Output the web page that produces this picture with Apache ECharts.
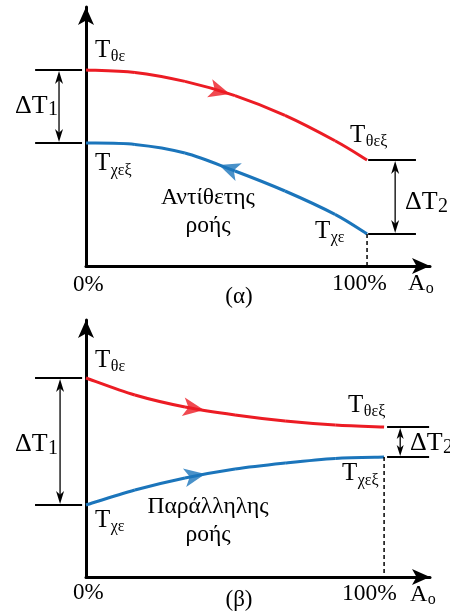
<!DOCTYPE html>
<html><head><meta charset="utf-8">
<script src="https://cdn.jsdelivr.net/npm/echarts@6/dist/echarts.min.js"></script>
<style>html,body{margin:0;padding:0;background:#fff}#c{width:450px;height:612px}</style>
</head><body><div id="c"></div>
<script>
// ---------- DATA ----------
// Panel (α): counter-flow. x = % of area A_o, T = temperature (arbitrary units)
const aHotX  = [0, 17.4, 35.2, 53, 70.8, 88.6, 100];
const aHotT  = [98, 96.8, 92.3, 85.2, 75.3, 62.6, 53];
const aColdX = [0, 17.4, 35.2, 53, 70.8, 88.6, 100];
const aColdT = [61.5, 60.8, 56.5, 47.5, 37.5, 25.8, 16];
// Panel (β): parallel flow
const bHotX  = [0, 16.4, 33.2, 50, 66.8, 83.6, 100];
const bHotT  = [99.5, 91, 85, 81, 78, 76, 75];
const bColdX = [0, 16.4, 33.2, 50, 66.8, 83.6, 100];
const bColdT = [36, 43.5, 49.5, 54, 57, 59.3, 60];
// flow direction arrows [x, T]
const aHotArrow  = [51.2, 86];
const aColdArrow = [47.3, 50.5];
const bHotArrow  = [39.6, 83.5];
const bColdArrow = [40, 51.5];
// annotation bracket x positions (in % units of each panel): from, to, arrow x
const aLeftBracket  = [-18.1, -1.4, -9.6];
const aRightBracket = [100.4, 117.4, 110];
const bLeftBracket  = [-17.1, -1.3, -8.7];
const bRightBracket = [101, 115.1, 105.4];
const xTickLabels = ['0%', '100%'];
const axisName = ['Α', 'ο'];

const RED = '#ec1c24', BLUE = '#1b75bb';
const FAMILY = "Liberation Serif";

const chart = echarts.init(document.getElementById('c'), null, {renderer: 'canvas'});
const zip = (xs, ys) => xs.map((x, i) => [x, ys[i]]);
const last = a => a[a.length - 1];

function axes(gi, xmax, ymax) {
  const line = {show: true, lineStyle: {color: '#000', width: 3}, symbol: ['none', 'arrow'], symbolSize: [12, 18]};
  return {
    x: {gridIndex: gi, type: 'value', min: 0, max: xmax, axisLine: line, axisTick: {show: false}, axisLabel: {show: false}, splitLine: {show: false}},
    y: {gridIndex: gi, type: 'value', min: 0, max: ymax, axisLine: line, axisTick: {show: false}, axisLabel: {show: false}, splitLine: {show: false}}
  };
}
const A = axes(0, 122.4, 129.5), B = axes(1, 115.4, 128.5);

// smooth curve (Catmull-Rom through the data points, positioned by the axes)
function curve(gi, xs, ys, color) {
  return {
    type: 'custom', xAxisIndex: gi, yAxisIndex: gi, data: zip(xs, ys), silent: true, clip: false,
    renderItem: function (params, api) {
      if (params.dataIndex !== 0) return null;
      const P = xs.map((x, i) => api.coord([x, ys[i]]));
      const n = P.length, kids = [];
      for (let i = 0; i < n - 1; i++) {
        const p0 = P[Math.max(i - 1, 0)], p1 = P[i], p2 = P[i + 1], p3 = P[Math.min(i + 2, n - 1)];
        kids.push({type: 'bezierCurve', shape: {
          x1: p1[0], y1: p1[1], x2: p2[0], y2: p2[1],
          cpx1: p1[0] + (p2[0] - p0[0]) / 6, cpy1: p1[1] + (p2[1] - p0[1]) / 6,
          cpx2: p2[0] - (p3[0] - p1[0]) / 6, cpy2: p2[1] - (p3[1] - p1[1]) / 6},
          style: {stroke: color, lineWidth: 3, fill: null, lineCap: 'butt'}});
      }
      return {type: 'group', children: kids};
    }
  };
}
function dashed(gi, xs, ys) {
  return {type: 'line', xAxisIndex: gi, yAxisIndex: gi, data: [[last(xs), last(ys)], [last(xs), 0]], symbol: 'none',
          lineStyle: {color: '#000', width: 1.5, type: [4, 3]}, silent: true};
}
const arrowSeries = (gi, pts, colors) => ({
  type: 'scatter', xAxisIndex: gi, yAxisIndex: gi, clip: false, silent: true, symbol: 'arrow', symbolSize: [14, 21],
  data: pts.map((p, i) => ({value: p, itemStyle: {color: colors[i]}}))
});

const arrowA = arrowSeries(0, [aHotArrow, aColdArrow], [RED, BLUE]);
const arrowB = arrowSeries(1, [bHotArrow, bColdArrow], [RED, BLUE]);
const series = [
  curve(0, aHotX, aHotT, RED), curve(0, aColdX, aColdT, BLUE), dashed(0, aColdX, aColdT),
  curve(1, bHotX, bHotT, RED), curve(1, bColdX, bColdT, BLUE), dashed(1, bColdX, bColdT),
  arrowA, arrowB
];

// text helpers
const mctx = document.createElement('canvas').getContext('2d');
function tw(t, size) { mctx.font = size + 'px "' + FAMILY + '"'; return mctx.measureText(t).width; }
function txt(x, y, t, size, align) {
  return {type: 'text', x: x, y: y, silent: true,
          style: {text: t, fontSize: size, fontFamily: FAMILY, fill: '#000', align: align || 'left', verticalAlign: 'middle'}};
}
function subLabel(left, cy, main, sub, mainSize, subSize, subCy) {
  return [txt(left, cy, main, mainSize), txt(left + tw(main, mainSize) + 0.5, subCy, sub, subSize)];
}

const option = {
  animation: false,
  backgroundColor: '#fff',
  grid: [
    {left: 86, right: 20, top: 7, bottom: 346},
    {left: 86, right: 20, top: 320, bottom: 35}
  ],
  xAxis: [A.x, B.x],
  yAxis: [A.y, B.y],
  series: series
};
chart.setOption(option);

// ---------- derived geometry through the axes ----------
const px = (gi, p) => chart.convertToPixel({gridIndex: gi}, p);

function rotFor(gi, xs, ys, p, reverse) {
  let i = 0;
  while (i < xs.length - 2 && xs[i + 1] < p[0]) i++;
  const p1 = px(gi, [xs[i], ys[i]]), p2 = px(gi, [xs[i + 1], ys[i + 1]]);
  let ang = Math.atan2(-(p2[1] - p1[1]), p2[0] - p1[0]) * 180 / Math.PI - 90;
  if (reverse) ang += 180;
  return ang;
}
arrowA.data[0].symbolRotate = rotFor(0, aHotX, aHotT, aHotArrow, false);
arrowA.data[1].symbolRotate = rotFor(0, aColdX, aColdT, aColdArrow, true);
arrowB.data[0].symbolRotate = rotFor(1, bHotX, bHotT, bHotArrow, false);
arrowB.data[1].symbolRotate = rotFor(1, bColdX, bColdT, bColdArrow, false);

function head(x, tipY, dir, w, h) {
  return {type: 'polygon', silent: true, shape: {points: [[x, tipY], [x - w / 2, tipY + dir * h], [x, tipY + dir * h * 0.72], [x + w / 2, tipY + dir * h]]},
          style: {fill: '#000'}};
}
function bracket(gi, br, yTop, yBot, w, h) {
  const a1 = px(gi, [br[0], yTop]), a2 = px(gi, [br[1], yTop]);
  const b1 = px(gi, [br[0], yBot]), b2 = px(gi, [br[1], yBot]);
  const m1 = px(gi, [br[2], yTop]), m2 = px(gi, [br[2], yBot]);
  const ls = {stroke: '#000', lineWidth: 1.8};
  return [
    {type: 'line', silent: true, shape: {x1: a1[0], y1: a1[1], x2: a2[0], y2: a2[1]}, style: ls},
    {type: 'line', silent: true, shape: {x1: b1[0], y1: b1[1], x2: b2[0], y2: b2[1]}, style: ls},
    {type: 'line', silent: true, shape: {x1: m1[0], y1: m1[1] + h * 0.6, x2: m2[0], y2: m2[1] - h * 0.6}, style: {stroke: '#000', lineWidth: 1.3}},
    head(m1[0], m1[1] + 1, 1, w, h), head(m2[0], m2[1] - 1, -1, w, h)
  ];
}

const graphics = [
  ...bracket(0, aLeftBracket, aHotT[0], aColdT[0], 8, 13),
  ...bracket(0, aRightBracket, last(aHotT), last(aColdT), 8, 13),
  ...bracket(1, bLeftBracket, bHotT[0], bColdT[0], 8, 13),
  ...bracket(1, bRightBracket, last(bHotT), last(bColdT), 7, 11),
  // panel α
  ...subLabel(95, 50, 'T', 'θε', 25, 16, 57),
  ...subLabel(95, 163.5, 'T', 'χεξ', 25, 16, 170.5),
  ...subLabel(350, 135, 'T', 'θεξ', 25, 16, 142),
  ...subLabel(315, 231, 'T', 'χε', 25, 16, 238),
  ...subLabel(15, 106, 'ΔT', '1', 26, 20, 110),
  ...subLabel(405, 202.5, 'ΔT', '2', 26, 20, 207),
  txt(73, 284.5, xTickLabels[0], 23), txt(332, 283.5, xTickLabels[1], 23.5),
  ...subLabel(408, 283.5, axisName[0], axisName[1], 24, 16, 289),
  txt(239, 297, '(α)', 23, 'center'),
  txt(208, 197.5, 'Αντίθετης', 23.5, 'center'), txt(208, 225.5, 'ροής', 23.5, 'center'),
  // panel β
  ...subLabel(95, 360, 'T', 'θε', 25, 16, 367),
  ...subLabel(95, 520, 'T', 'χε', 25, 16, 527),
  ...subLabel(348, 405, 'T', 'θεξ', 25, 16, 412),
  ...subLabel(342, 473.5, 'T', 'χεξ', 25, 16, 480.5),
  ...subLabel(15, 444.5, 'ΔT', '1', 26, 20, 449),
  ...subLabel(410, 443.5, 'ΔT', '2', 26, 20, 448),
  txt(73, 592.5, xTickLabels[0], 23), txt(342, 594, xTickLabels[1], 23.5),
  ...subLabel(410, 595, axisName[0], axisName[1], 24, 16, 600),
  txt(239, 600, '(β)', 23, 'center'),
  txt(208, 506.5, 'Παράλληλης', 23.5, 'center'), txt(208, 534.5, 'ροής', 23.5, 'center')
];
chart.setOption({series: series, graphic: graphics});
</script>
</body></html>
